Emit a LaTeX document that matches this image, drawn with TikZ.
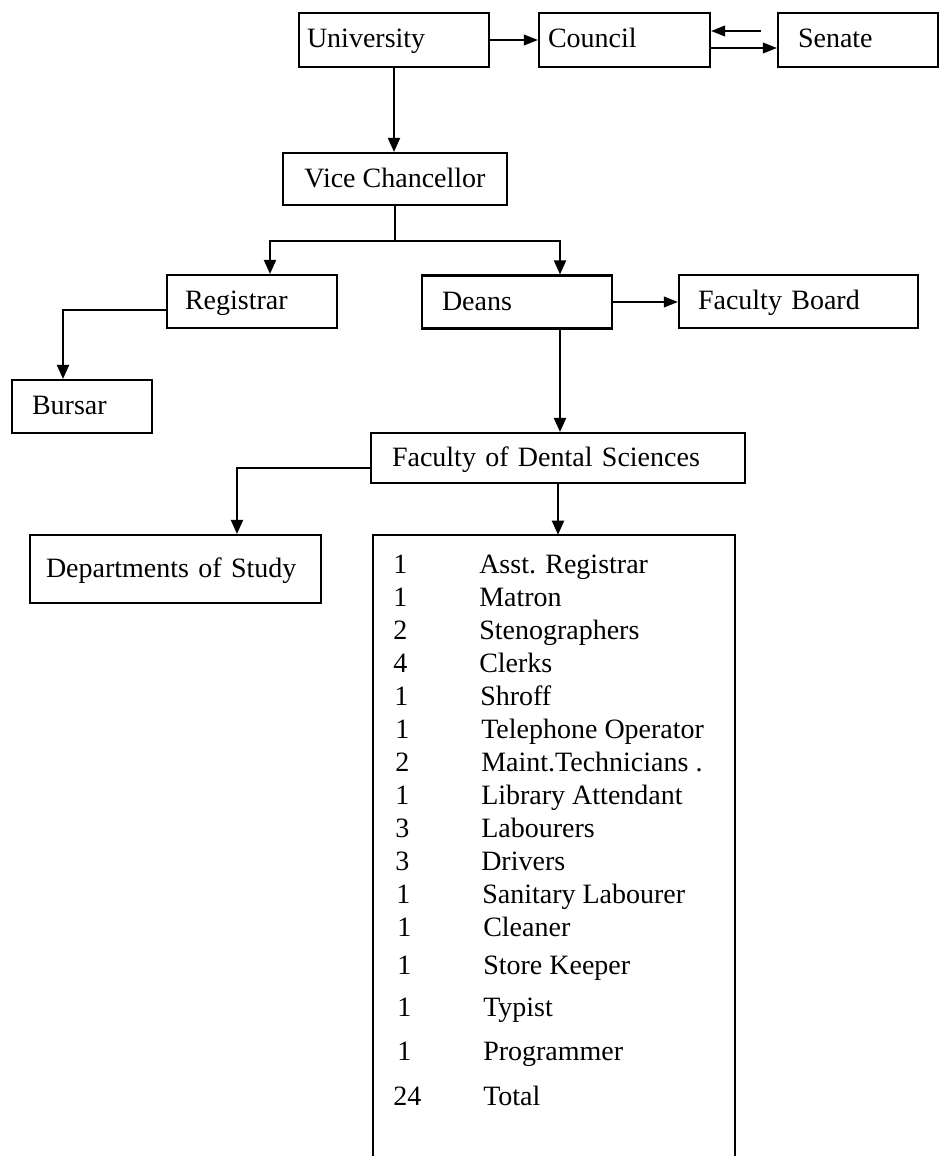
\documentclass[tikz,border=0pt]{standalone}
\usepackage{fontspec}
\setmainfont{Liberation Serif}
\usetikzlibrary{arrows.meta,calc}
\begin{document}
\begin{tikzpicture}[x=0.75pt,y=-0.75pt,
  every node/.style={font=\fontsize{21}{25}\selectfont},
  box/.style={draw, line width=1.6pt, rectangle, align=left, inner ysep=0pt, text height=16pt, text depth=4pt},
  arr/.style={line width=1.5pt, -{Triangle[length=10.5pt,width=9pt]}},
  harr/.style={line width=1.2pt, -{Triangle[length=10.5pt,width=8pt]}},
  ln/.style={line width=1.5pt},
  num/.style={anchor=base west, inner sep=0pt},
  item/.style={anchor=base west, inner sep=0pt}]
\useasboundingbox (0,0) rectangle (939,1156);
% boxes
\node[box, minimum width=142.5pt, minimum height=40.5pt, inner xsep=6pt, text width=130.5pt] (univ) at (394,40) {University};
\node[box, minimum width=128.25pt, minimum height=40.5pt, inner xsep=6.75pt, text width=114.75pt] (council) at (624.5,40) {Council};
\node[box, minimum width=120pt, minimum height=40.5pt, inner xsep=15pt, text width=90pt] (senate) at (858,40) {Senate};
\node[box, align=center, minimum width=168pt, minimum height=39pt] (vc) at (395,179) {Vice Chancellor};
\node[box, minimum width=127.5pt, minimum height=39.75pt, inner xsep=13.5pt, text width=100.5pt] (reg) at (252,301.5) {Registrar};
\node[box, minimum width=142.5pt, minimum height=39.75pt, inner xsep=15pt, text width=112.5pt] (deans) at (517,302) {Deans};
\node[box, minimum width=179.25pt, minimum height=39.75pt, inner xsep=14.25pt, text width=150.75pt] (fb) at (798.5,301.5) {Faculty Board};
\node[box, minimum width=105pt, minimum height=39.75pt, inner xsep=15pt, text width=75pt] (bursar) at (82,406.5) {Bursar};
\node[box, minimum width=280.5pt, minimum height=37.5pt, inner xsep=15.75pt, text width=249pt] (fds) at (558,458) {Faculty of Dental Sciences};
\node[box, minimum width=218.25pt, minimum height=51pt, inner xsep=12pt, text width=194.25pt] (dos) at (175.5,569) {Departments of Study};
% staff box (open at bottom)
\node[minimum width=271.5pt, minimum height=468.75pt, inner sep=0pt] (staff) at (554,847.5) {};
\draw[line width=1.6pt] (staff.south west) -- (staff.north west) -- (staff.north east) -- (staff.south east);
% staff rows
\node[num] (n1) at (393,573) {1};   \node[item] (r1) at (479,573) {Asst. Registrar};
\node[num] (n2) at (393,606) {1};   \node[item] (r2) at (479,606) {Matron};
\node[num] (n3) at (393,639) {2};   \node[item] (r3) at (479,639) {Stenographers};
\node[num] (n4) at (393,672) {4};   \node[item] (r4) at (479,672) {Clerks};
\node[num] (n5) at (394,705) {1};   \node[item] (r5) at (480,705) {Shroff};
\node[num] (n6) at (395,738) {1};   \node[item] (r6) at (481,738) {Telephone Operator};
\node[num] (n7) at (395,771) {2};   \node[item] (r7) at (481,771) {Maint.Technicians .};
\node[num] (n8) at (395,804) {1};   \node[item] (r8) at (481,804) {Library Attendant};
\node[num] (n9) at (395,837) {3};   \node[item] (r9) at (481,837) {Labourers};
\node[num] (n10) at (395,870) {3};  \node[item] (r10) at (481,870) {Drivers};
\node[num] (n11) at (396,903) {1};  \node[item] (r11) at (482,903) {Sanitary Labourer};
\node[num] (n12) at (397,936) {1};  \node[item] (r12) at (483,936) {Cleaner};
\node[num] (n13) at (397,974) {1};  \node[item] (r13) at (483,974) {Store Keeper};
\node[num] (n14) at (397,1016) {1}; \node[item] (r14) at (483,1016) {Typist};
\node[num] (n15) at (397,1060) {1}; \node[item] (r15) at (483,1060) {Programmer};
\node[num] (n16) at (393,1105) {24}; \node[item] (r16) at (483,1105) {Total};
% connectors
\draw[harr] (univ.east) -- (council.west);
\draw[harr] ([yshift=6.75pt,xshift=-12pt]senate.west) -- ([yshift=6.75pt]council.east);
\draw[harr] ([yshift=-6pt]council.east) -- ([yshift=-6pt]senate.west);
\draw[arr] (univ.south) -- (univ.south |- vc.north);
\coordinate (vcj) at ([yshift=-26.25pt]vc.south);
\draw[ln] (vc.south) -- (vcj);
\draw[arr] (vcj) -| ([xshift=13.5pt]reg.north);
\draw[arr] (vcj) -| ([xshift=32.25pt]deans.north);
\draw[arr] ([yshift=-6.4pt]reg.west) -| ([xshift=-14.25pt]bursar.north);
\draw[harr] (deans.east) -- (deans.east -| fb.west);
\draw[arr] ([xshift=32.25pt]deans.south) -- ([xshift=32.25pt]deans.south |- fds.north);
\draw[arr] ([yshift=-7.5pt]fds.west) -| ([xshift=46.1pt]dos.north);
\draw[arr] (fds.south) -- (fds.south |- staff.north);
\end{tikzpicture}
\end{document}
